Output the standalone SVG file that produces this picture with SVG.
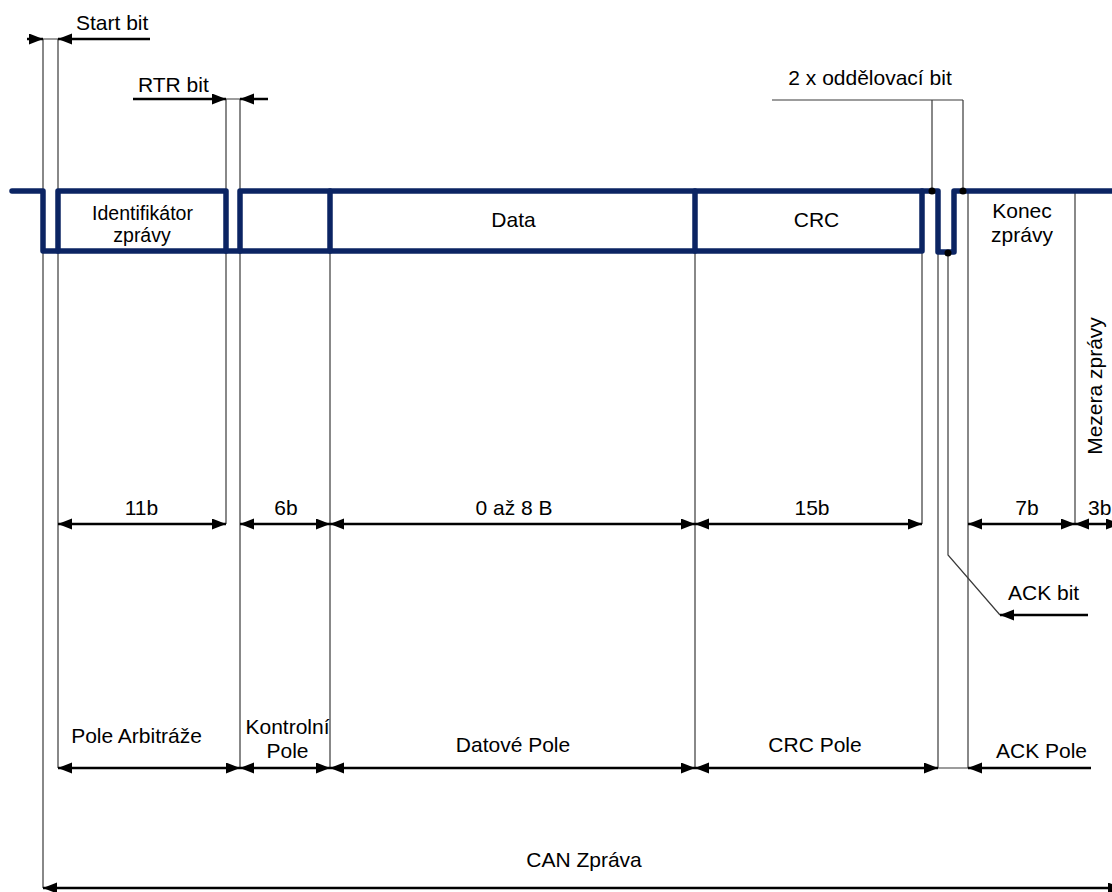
<svg xmlns="http://www.w3.org/2000/svg" width="1112" height="892" viewBox="0 0 1112 892">
<style>
text{font-family:"Liberation Sans",Arial,sans-serif;font-size:21px;fill:#000}
.m{text-anchor:middle}
.sm{font-size:19.5px}
.sig{fill:none;stroke:#0b2463;stroke-width:5.5;stroke-linejoin:round;stroke-linecap:round}
.thin{fill:none;stroke:#3a3a3a;stroke-width:1.2}
.arr{fill:none;stroke:#000;stroke-width:2.5}
.ae{marker-end:url(#ah)}
.as{marker-start:url(#ah)}
</style>
<defs>
<marker id="ah" markerUnits="userSpaceOnUse" markerWidth="16" markerHeight="12" refX="14" refY="5.5" orient="auto-start-reverse"><path d="M0,0 L14,5.5 L0,11 z" fill="#000"/></marker>
</defs>
<rect width="1112" height="892" fill="#fff"/>
<g id="connectors">
<path class="thin" d="M43,39 V888 M58,39 V768 M43,39 H58"/>
<path class="thin" d="M226,99 V524 M240,99 V768 M226,99 H240"/>
<path class="thin" d="M330,251 V768 M695,251 V768 M922,251 V524"/>
<path class="thin" d="M938,252 V768 M968,191 V768 M938,768 H968"/>
<path class="thin" d="M1075,191 V524"/>
<path class="thin" d="M772,100 H963 M932,100 V191 M963,100 V191"/>
<path class="thin" d="M948,253 V555 L1000,615"/>
<path class="arr ae" d="M27,39 H43"/>
<path class="arr ae" d="M150,39 H58"/>
<path class="arr ae" d="M133,99 H226"/>
<path class="arr ae" d="M268,99 H240"/>
<path class="arr ae" d="M1088,615 H1000"/>
<path class="arr as ae" d="M58,524 H226"/>
<path class="arr as ae" d="M240,524 H330"/>
<path class="arr as ae" d="M330,524 H695"/>
<path class="arr as ae" d="M695,524 H922"/>
<path class="arr as ae" d="M968,524 H1075"/>
<path class="arr as ae" d="M1075,524 H1120"/>
<path class="arr as ae" d="M58,768 H240"/>
<path class="arr as ae" d="M240,768 H330"/>
<path class="arr as ae" d="M330,768 H695"/>
<path class="arr as ae" d="M695,768 H938"/>
<path class="arr ae" d="M1091,768 H968"/>
<path class="arr as ae" d="M43,888 H1122"/>
</g>
<g id="signal">
<path class="sig" d="M12,191 H43 V251 H922 V191"/>
<path class="sig" d="M58,251 V191 H226 V251"/>
<path class="sig" d="M240,251 V191 H938 V252 H954 V191 H1116"/>
<path class="sig" d="M330,191 V251 M695,191 V251"/>
<circle cx="932" cy="191" r="3.5" fill="#000"/>
<circle cx="963" cy="191" r="3.5" fill="#000"/>
<circle cx="948" cy="253" r="3.5" fill="#000"/>
</g>
<g id="start-bit"><text x="76" y="30">Start bit</text></g>
<g id="rtr-bit"><text x="138" y="92">RTR bit</text></g>
<g id="delimiters"><text class="m" x="870" y="85">2 x oddělovací bit</text></g>
<g id="identifier"><text class="m sm" x="142.5" y="220">Identifikátor</text><text class="m sm" x="142" y="242">zprávy</text></g>
<g id="data"><text class="m" x="513.5" y="227">Data</text></g>
<g id="crc"><text class="m" x="816.5" y="227">CRC</text></g>
<g id="eof"><text class="m" x="1022" y="218">Konec</text><text class="m" x="1022" y="242">zprávy</text></g>
<g id="ifs"><text class="m" transform="translate(1102,386) rotate(-90)">Mezera zprávy</text></g>
<g id="bits">
<text class="m" x="141.5" y="515">11b</text>
<text class="m" x="286" y="515">6b</text>
<text class="m" x="514" y="515">0 až 8 B</text>
<text class="m" x="812" y="515">15b</text>
<text class="m" x="1027" y="515">7b</text>
<text x="1088" y="515">3b</text>
</g>
<g id="ack-bit"><text x="1008" y="600">ACK bit</text></g>
<g id="fields">
<text class="m" x="136.5" y="743">Pole Arbitráže</text>
<text class="m" x="287.5" y="734">Kontrolní</text>
<text class="m" x="287.5" y="758">Pole</text>
<text class="m" x="513" y="752">Datové Pole</text>
<text class="m" x="815" y="752">CRC Pole</text>
<text class="m" x="1041.5" y="758">ACK Pole</text>
</g>
<g id="can"><text class="m" x="584" y="867">CAN Zpráva</text></g>
</svg>
